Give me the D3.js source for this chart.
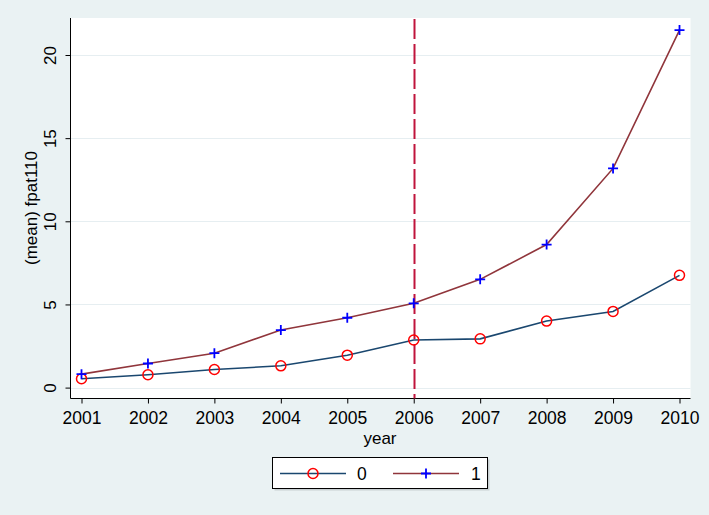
<!DOCTYPE html>
<html><head><meta charset="utf-8">
<script src="https://cdn.jsdelivr.net/npm/d3@7"></script>
<style>
html,body{margin:0;padding:0;background:#eaf2f3;}
svg{display:block;font-family:Arial,"Liberation Sans",sans-serif;}
</style></head>
<body>
<svg id="c" width="709" height="515"></svg>
<script>
const years = [2001,2002,2003,2004,2005,2006,2007,2008,2009,2010];
const series0 = [0.53,0.77,1.09,1.31,1.95,2.86,2.93,4.0,4.58,6.75];
const series1 = [0.81,1.45,2.07,3.46,4.2,5.07,6.51,8.6,13.18,21.5];
const yTicks = [0,5,10,15,20];
const seriesLabels = ["0","1"];
const refYear = 2006;

(function(){
const svg = d3.select("#c");
const pL = 70.5, pR = 690.5, pT = 18, pB = 398.5;
const x = d3.scaleLinear().domain([2001,2010]).range([81.5,679.5]);
const y = d3.scaleLinear().domain([0,20]).range([387.6,55]);
const FF = "Arial,'Liberation Sans',sans-serif";

svg.append("rect").attr("width",709).attr("height",515).attr("fill","#eaf2f3");
svg.append("rect").attr("x",pL).attr("y",pT).attr("width",pR-pL).attr("height",pB-pT).attr("fill","#ffffff");

// grid
svg.append("g").selectAll("line").data(yTicks).join("line")
  .attr("x1",pL).attr("x2",pR)
  .attr("y1",d=>Math.round(y(d))+0.5).attr("y2",d=>Math.round(y(d))+0.5)
  .attr("stroke","#e6eef1").attr("stroke-width",1.2);

// axes
const yAxis = d3.axisLeft(y).tickValues(yTicks).tickSize(5).tickPadding(4).tickFormat(d3.format("d"));
const gy = svg.append("g").attr("transform",`translate(${pL},0)`).call(yAxis);
gy.select(".domain").attr("d",`M0,${pT}V${pB}`).attr("stroke","#000");
gy.selectAll(".tick line").attr("stroke","#000");
gy.selectAll(".tick text").attr("font-size",17).attr("fill","#000").attr("font-family",FF)
  .attr("transform","rotate(-90)").attr("x",0).attr("y",-14.5).attr("dy","0")
  .attr("text-anchor","middle");

const xAxis = d3.axisBottom(x).tickValues(years).tickSize(5).tickPadding(8).tickFormat(d3.format("d"));
const gx = svg.append("g").attr("transform",`translate(0,${pB})`).call(xAxis);
gx.select(".domain").attr("d",`M${pL},0H${pR}`).attr("stroke","#000");
gx.selectAll(".tick line").attr("stroke","#000");
gx.selectAll(".tick text").attr("font-size",17.5).attr("fill","#000").attr("font-family",FF);

// axis titles
svg.append("text").attr("x",380).attr("y",444).attr("text-anchor","middle")
  .attr("font-size",17).attr("font-family",FF).text("year");
svg.append("text").attr("transform","translate(37,208) rotate(-90)").attr("text-anchor","middle")
  .attr("font-size",17).attr("font-family",FF).text("(mean) fpat110");

// reference line
svg.append("line").attr("x1",Math.round(x(refYear))+0.5).attr("x2",Math.round(x(refYear))+0.5)
  .attr("y1",pT+1).attr("y2",pB)
  .attr("stroke","#c0143c").attr("stroke-width",2).attr("stroke-dasharray","20,5");

const line = d3.line().x((d,i)=>x(years[i])).y(d=>y(d));
const col0 = "#1a476f", col1 = "#90353b";
svg.append("path").attr("d",line(series1)).attr("fill","none").attr("stroke",col1).attr("stroke-width",1.6);
svg.append("path").attr("d",line(series0)).attr("fill","none").attr("stroke",col0).attr("stroke-width",1.6);

function plus(g,cx,cy){
  g.append("path").attr("d",`M${cx-5},${cy}H${cx+5}M${cx},${cy-5}V${cy+5}`)
   .attr("stroke","#0000ff").attr("stroke-width",1.8).attr("fill","none");
}
function circ(g,cx,cy){
  g.append("circle").attr("cx",cx).attr("cy",cy).attr("r",5)
   .attr("fill","none").attr("stroke","#ff0000").attr("stroke-width",1.5);
}
const m = svg.append("g");
series0.forEach((v,i)=>circ(m,x(years[i]),y(v)));
series1.forEach((v,i)=>plus(m,x(years[i]),y(v)));

// legend
const lg = svg.append("g");
lg.append("rect").attr("x",274.5).attr("y",459.5).attr("width",215).attr("height",31).attr("fill","#c8cfd2");
lg.append("rect").attr("x",272.5).attr("y",457.5).attr("width",215).attr("height",31).attr("fill","#fff").attr("stroke","#000").attr("stroke-width",1);
const ly = 473.5;
lg.append("line").attr("x1",280).attr("x2",346).attr("y1",ly).attr("y2",ly).attr("stroke",col0).attr("stroke-width",1.6);
circ(lg,313,ly);
lg.append("text").attr("x",357).attr("y",ly+6).attr("font-size",17.5).attr("font-family",FF).text(seriesLabels[0]);
lg.append("line").attr("x1",393).attr("x2",459).attr("y1",ly).attr("y2",ly).attr("stroke",col1).attr("stroke-width",1.6);
plus(lg,426,ly);
lg.append("text").attr("x",471).attr("y",ly+6).attr("font-size",17.5).attr("font-family",FF).text(seriesLabels[1]);
})();
</script>
</body></html>
